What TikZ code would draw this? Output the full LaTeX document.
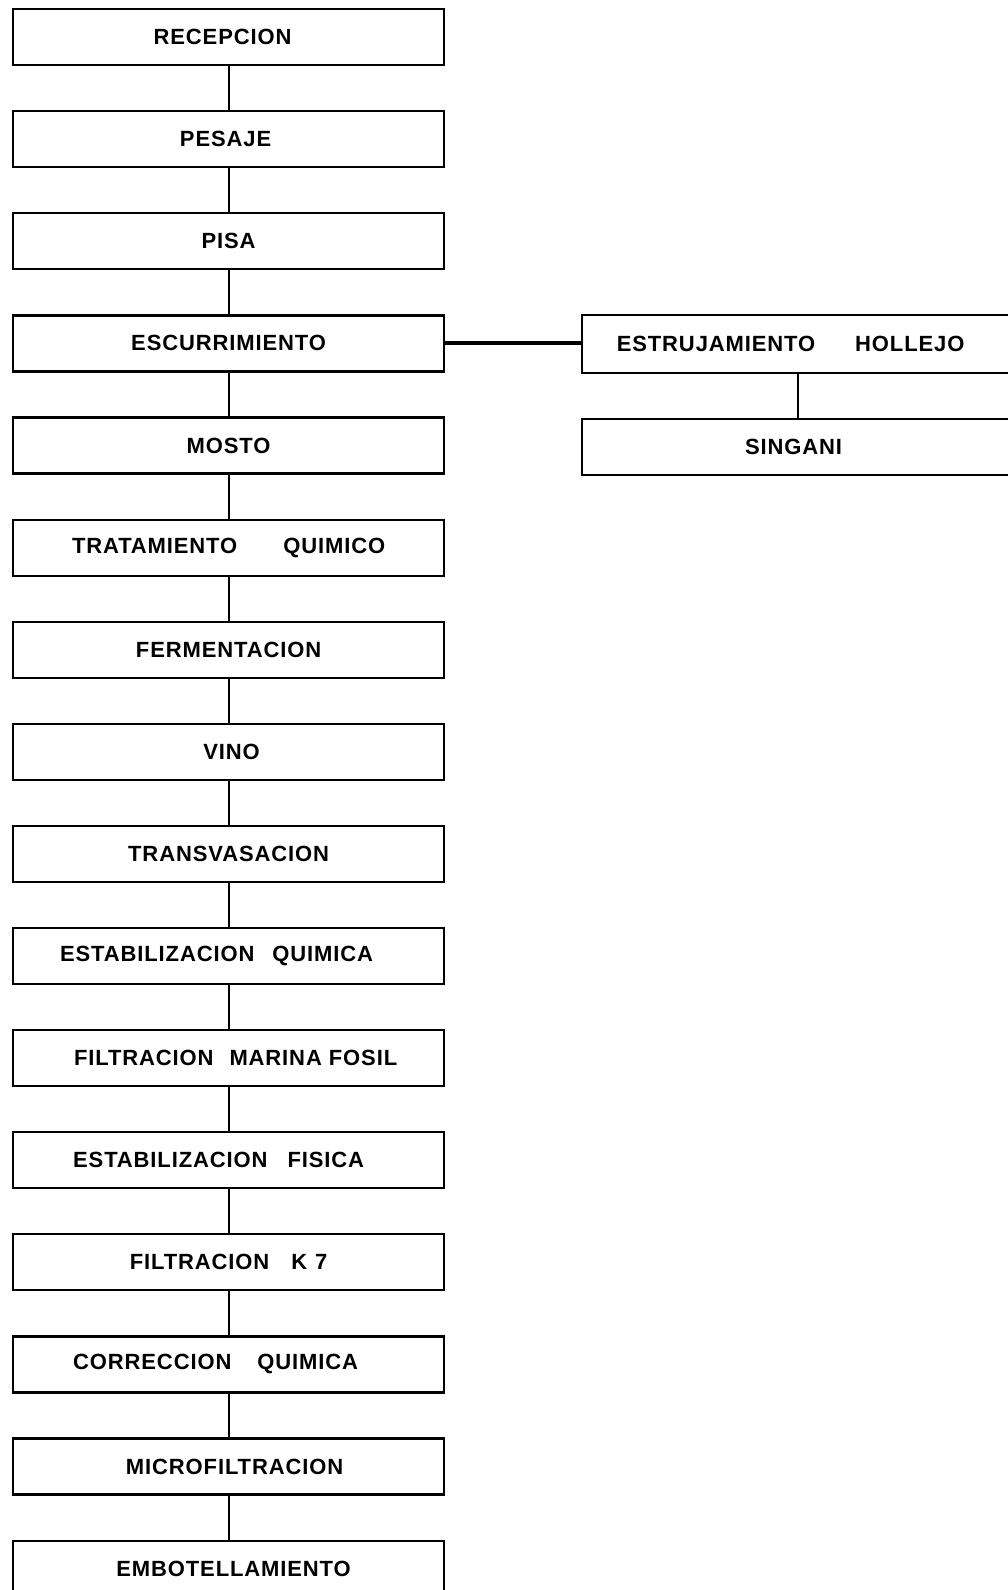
\documentclass[tikz,border=0pt]{standalone}
\usepackage{fontspec}
\setmainfont[LetterSpace=4]{Liberation Sans}
\newcommand{\gp}[1]{\hspace*{#1pt}}
\begin{document}
\begin{tikzpicture}[x=1pt,y=-1pt,
  box/.style={draw, line width=2.2pt, minimum width=431pt, minimum height=56pt,
    inner sep=0pt, anchor=north west, font=\fontsize{22}{25}\selectfont\bfseries},
  lbox/.style={box},
  link/.style={line width=2pt},
  thick link/.style={line width=4pt}]
\useasboundingbox (0,0) rectangle (1007,1590);
\fill[white] (0,0) rectangle (1007,1590);
\node[box] (n0) at (12,8) {RECEPCION\gp{12}};
\node[box] (n1) at (12,110.1) {PESAJE\gp{6}};
\node[box] (n2) at (12,212.2) {PISA};
\node[box] (n3) at (12,314.3) {ESCURRIMIENTO};
\node[box] (n4) at (12,416.4) {MOSTO};
\node[box] (n5) at (12,518.5) {TRATAMIENTO\gp{46}QUIMICO};
\node[box] (n6) at (12,620.6) {FERMENTACION};
\node[box] (n7) at (12,722.7) {\gp{6}VINO};
\node[box] (n8) at (12,824.8) {TRANSVASACION};
\node[box] (n9) at (12,926.9) {ESTABILIZACION\gp{18}QUIMICA\gp{24}};
\node[lbox] (n10) at (12,1029) {\gp{14}FILTRACION\gp{16}MARINA\gp{7}FOSIL};
\node[lbox] (n11) at (12,1131.1) {ESTABILIZACION\gp{20}FISICA\gp{20}};
\node[lbox] (n12) at (12,1233.2) {FILTRACION\gp{22}K\gp{8}7};
\node[lbox] (n13) at (12,1335.3) {CORRECCION\gp{26}QUIMICA\gp{26}};
\node[lbox] (n14) at (12,1437.4) {\gp{12}MICROFILTRACION};
\node[lbox] (n15) at (12,1539.5) {\gp{10}EMBOTELLAMIENTO};
\node[lbox, minimum height=58pt] (r0) at (581,314) {ESTRUJAMIENTO\gp{40}HOLLEJO\gp{14}};
\node[lbox] (r1) at (581,418) {SINGANI\gp{8}};
\foreach \a/\b in {n0/n1,n1/n2,n2/n3,n3/n4,n4/n5,n5/n6,n6/n7,n7/n8,n8/n9,n9/n10,n10/n11,n11/n12,n12/n13,n13/n14,n14/n15,r0/r1}
  \draw[link] (\a.south) -- (\b.north);
\draw[thick link] (n3.east) -- (r0.west |- n3.east);
\end{tikzpicture}
\end{document}
